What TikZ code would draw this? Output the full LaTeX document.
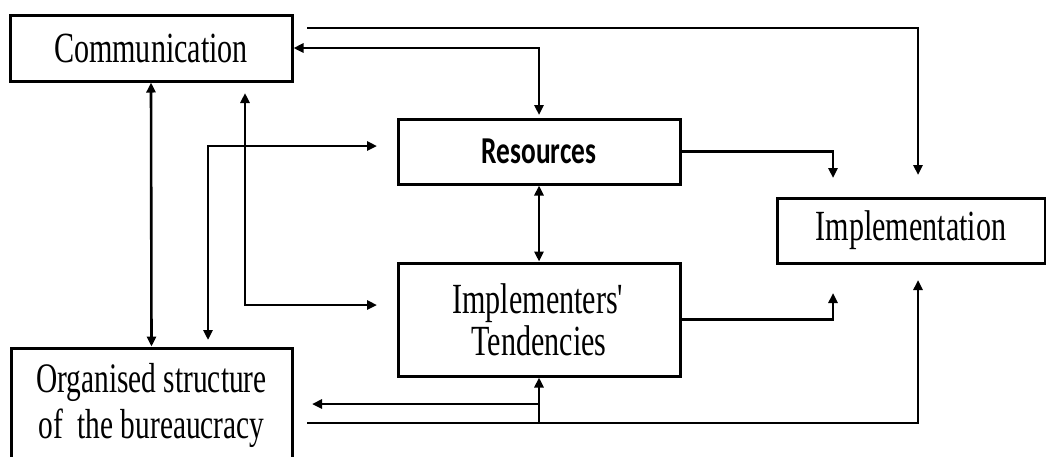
\documentclass[tikz,border=0pt]{standalone}
\usepackage{fontspec}
\setmainfont{Liberation Serif}[FakeStretch=0.7]
\newfontfamily\carl{Carlito}[FakeStretch=0.72]
\usetikzlibrary{arrows.meta}
\begin{document}
\begin{tikzpicture}[x=1pt,y=-1pt,
  box/.style={draw, line width=3pt, inner sep=0pt, align=center},
  serif/.style={font=\fontsize{43}{44}\selectfont},
  tip/.tip={Triangle[length=10pt,width=9pt]},
  one/.style={line width=2.6pt, -tip},
  two/.style={line width=2.6pt, tip-tip}
]
\useasboundingbox (0,0) rectangle (1046,456);
\clip (0,0) rectangle (1046,456);
% boxes
\node[box, serif, minimum width=282pt, minimum height=66pt] (comm) at (151,48) {Communication};
\node[box, minimum width=282pt, minimum height=65pt, font=\carl\bfseries\fontsize{38}{40}\selectfont] (res) at (539,151.5) {Resources};
\node[box, minimum width=282pt, minimum height=113pt, font=\fontsize{43}{42}\selectfont] (impl) at (539,319.5) {Implementers\textquotesingle\\Tendencies};
\node[box, serif, minimum width=268pt, minimum height=65pt] (implem) at (911,230.5) {Implementation};
\node[box, minimum width=281pt, minimum height=114pt, font=\fontsize{42}{46}\selectfont] (org) at (151.5,405) {Organised structure\\of\ \ the bureaucracy};
% free ends
\coordinate (a1) at (307,28);
\coordinate (a2) at (918,175);
\coordinate (b1) at (539,115);
\coordinate (c1) at (833,178);
\coordinate (d1) at (833,293);
\coordinate (e1) at (307,423);
\coordinate (e2) at (918,280);
\coordinate (j1) at (539,423);
\coordinate (j2) at (539,404);
\coordinate (f1) at (312,404);
\coordinate (g1) at (245,93);
\coordinate (g2) at (377,305);
\coordinate (h1) at (208,340);
\coordinate (h2) at (377,146);
% connectors
\draw[one] (a1) -| (a2);
\draw[two] (comm.east) -| (b1);
\draw[two] (res.south) -- (impl.north);
\draw[one] (res.east) -| (c1);
\draw[one] (impl.east) -| (d1);
\draw[one] (e1) -| (e2);
\draw[one] (j1) -- (impl.south);
\draw[one] (j2) -- (f1);
\draw[two] (comm.south) -- (org.north);
\draw[two] (g1) |- (g2);
\draw[two] (h1) |- (h2);
\end{tikzpicture}
\end{document}
